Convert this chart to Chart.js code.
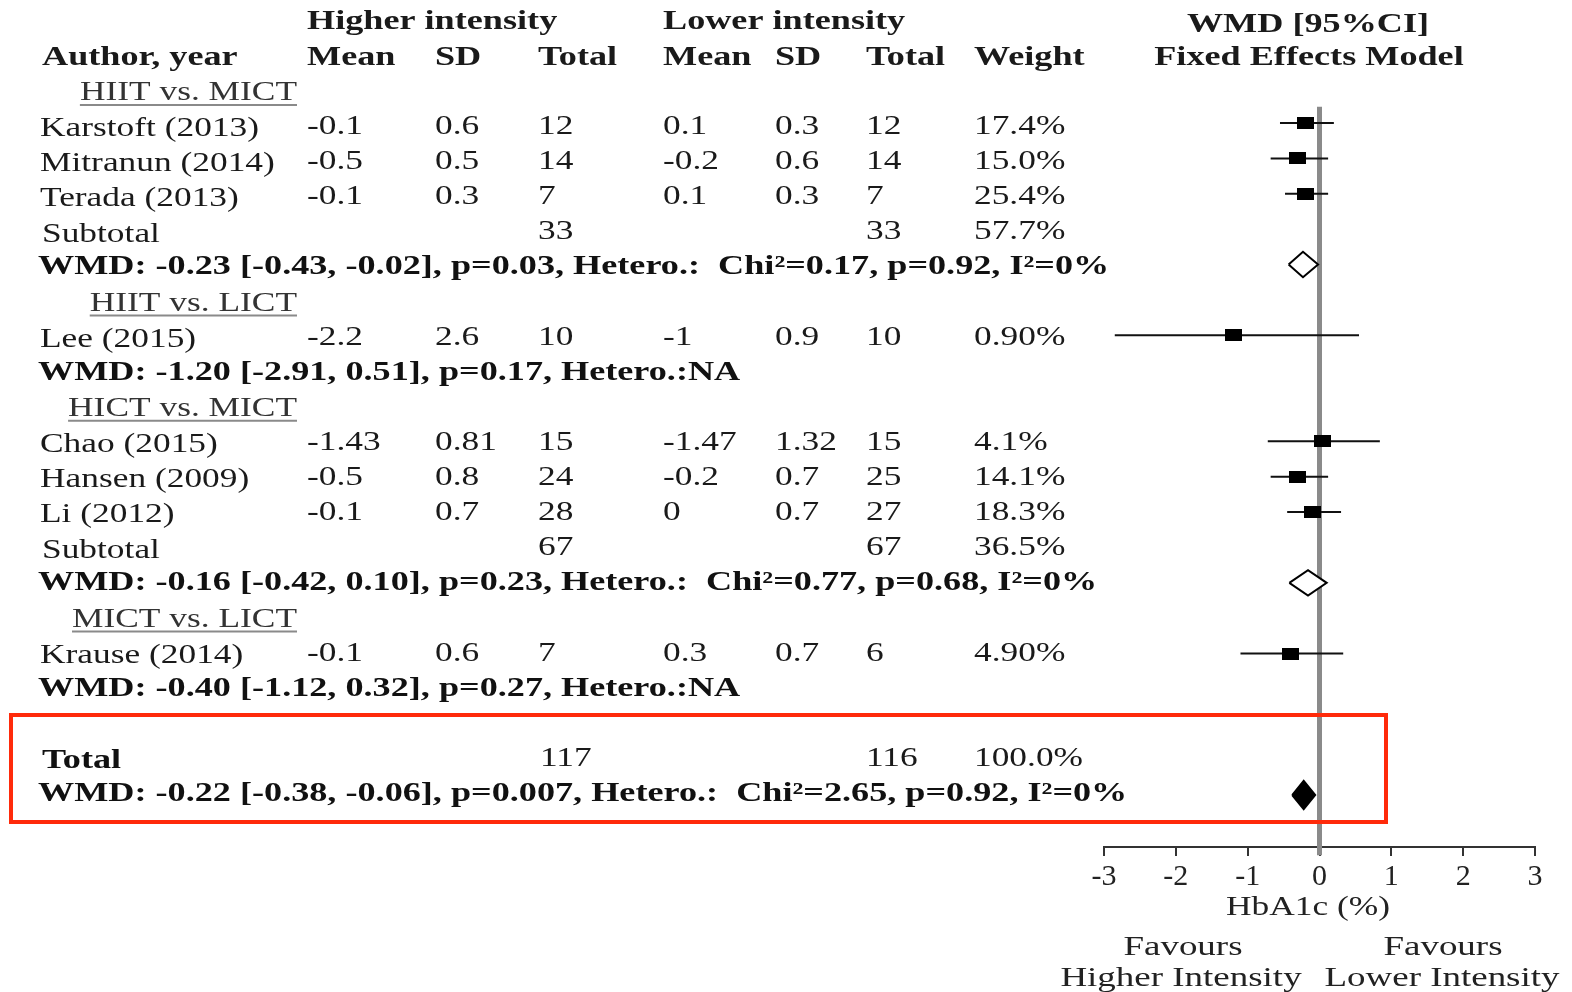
<!DOCTYPE html>
<html>
<head>
<meta charset="utf-8">
<script src="https://cdn.jsdelivr.net/npm/chart.js@4.4.1/dist/chart.umd.min.js"></script>
<style>
  html, body { margin: 0; padding: 0; background: #fff; }
  #wrap { width: 1572px; height: 992px; position: relative; }
</style>
</head>
<body>
<div id="wrap"><canvas id="c"></canvas></div>
<script>
// study rows
const authors = ['Karstoft (2013)', 'Mitranun (2014)', 'Terada (2013)', 'Lee (2015)', 'Chao (2015)', 'Hansen (2009)', 'Li (2012)', 'Krause (2014)']
const studyRows = [3, 4, 5, 9, 12, 13, 14, 18]
const hiMean = ['-0.1', '-0.5', '-0.1', '-2.2', '-1.43', '-0.5', '-0.1', '-0.1']
const hiSD = ['0.6', '0.5', '0.3', '2.6', '0.81', '0.8', '0.7', '0.6']
const hiN = ['12', '14', '7', '10', '15', '24', '28', '7']
const loMean = ['0.1', '-0.2', '0.1', '-1', '-1.47', '-0.2', '0', '0.3']
const loSD = ['0.3', '0.6', '0.3', '0.9', '1.32', '0.7', '0.7', '0.7']
const loN = ['12', '14', '7', '10', '15', '25', '27', '6']
const weights = ['17.4%', '15.0%', '25.4%', '0.90%', '4.1%', '14.1%', '18.3%', '4.90%']
const est = [-0.2, -0.3, -0.2, -1.2, 0.04, -0.3, -0.1, -0.4]
const ciLow = [-0.55, -0.68, -0.48, -2.85, -0.72, -0.68, -0.45, -1.1]
const ciHigh = [0.2, 0.12, 0.12, 0.55, 0.84, 0.12, 0.3, 0.33]

// subgroup headings
const groupNames = ['HIIT vs. MICT', 'HIIT vs. LICT', 'HICT vs. MICT', 'MICT vs. LICT']
const groupRows = [2, 8, 11, 17]

// subtotal rows
const subtotalRows = [6, 15]
const subtotalHiN = ['33', '67']
const subtotalLoN = ['33', '67']
const subtotalWeight = ['57.7%', '36.5%']

// pooled estimates (diamonds)
const poolRows = [7, 16, 22]
const poolEst = [-0.23, -0.16, -0.22]
const poolLow = [-0.43, -0.42, -0.38]
const poolHigh = [-0.02, 0.10, -0.06]
const poolFilled = [false, false, true]

// summary text lines
const wmdRows = [7, 10, 16, 19, 22]
const wmdText = [
  'WMD: -0.23 [-0.43, -0.02], p=0.03, Hetero.:  Chi\u00b2=0.17, p=0.92, I\u00b2=0%',
  'WMD: -1.20 [-2.91, 0.51], p=0.17, Hetero.:NA',
  'WMD: -0.16 [-0.42, 0.10], p=0.23, Hetero.:  Chi\u00b2=0.77, p=0.68, I\u00b2=0%',
  'WMD: -0.40 [-1.12, 0.32], p=0.27, Hetero.:NA',
  'WMD: -0.22 [-0.38, -0.06], p=0.007, Hetero.:  Chi\u00b2=2.65, p=0.92, I\u00b2=0%'
]
const totalRow = 21
const totalHiN = '117'
const totalLoN = '116'
const totalWeight = '100.0%'

const xTicks = [-3, -2, -1, 0, 1, 2, 3]

const SERIF = '"Liberation Serif", "Times New Roman", serif'

// square marker
const sq = document.createElement('canvas')
sq.width = 17
sq.height = 12
const sqc = sq.getContext('2d')
sqc.fillStyle = '#000'
sqc.fillRect(0, 0, 17, 12)

const datasets = []
// reference line at 0
datasets.push({
  data: [{ x: 0, y: 2.54 }, { x: 0, y: 23.7 }],
  showLine: true, borderColor: '#8a8a8a', borderWidth: 5, pointRadius: 0, order: 10, clip: false
})
// confidence intervals
for (let i = 0; i < est.length; i++) {
  datasets.push({
    data: [{ x: ciLow[i], y: studyRows[i] }, { x: ciHigh[i], y: studyRows[i] }],
    showLine: true, borderColor: '#111', borderWidth: 2, pointRadius: 0, order: 5
  })
}
// squares
datasets.push({
  data: est.map((v, i) => ({ x: v, y: studyRows[i] })),
  pointStyle: sq, pointRadius: 8, showLine: false, order: 1
})
// diamonds
for (let i = 0; i < poolEst.length; i++) {
  const r = poolRows[i]
  const h = poolFilled[i] ? 0.4 : 0.36
  datasets.push({
    data: [
      { x: poolLow[i], y: r }, { x: poolEst[i], y: r - h },
      { x: poolHigh[i], y: r }, { x: poolEst[i], y: r + h }, { x: poolLow[i], y: r }
    ],
    showLine: true, tension: 0, borderColor: '#000', borderWidth: 2,
    backgroundColor: poolFilled[i] ? '#000' : '#fff',
    fill: 'shape', pointRadius: 0, order: 2
  })
}

const txt = (ctx, s, x, y, opt) => {
  opt = opt || {}
  const sx = opt.sx || (opt.bold ? 1.34 : 1.31)
  ctx.save()
  ctx.font = (opt.bold ? 'bold ' : '') + (opt.size || 27) + 'px ' + SERIF
  ctx.fillStyle = opt.color || '#1a1a1a'
  ctx.textBaseline = 'middle'
  const w = ctx.measureText(s).width * sx
  let x0 = x
  if (opt.align === 'right') x0 = x - w
  if (opt.align === 'center') x0 = x - w / 2
  ctx.translate(x0, y)
  ctx.scale(sx, 1)
  ctx.textAlign = 'left'
  ctx.fillText(s, 0, 0)
  ctx.restore()
  return w
}

const tablePlugin = {
  id: 'table',
  afterDraw(chart) {
    const ctx = chart.ctx
    const ys = chart.scales.y
    // text rows sit slightly tighter than the marker rows
    const py = r => ys.getPixelForValue(r) - (r - 3) * 0.27 + 4
    const col = { author: 40, hm: 307, hs: 435, hn: 538, lm: 663, ls: 775, ln: 866, w: 974 }

    // headers
    txt(ctx, 'Higher intensity', col.hm, 22, { bold: true })
    txt(ctx, 'Lower intensity', col.lm, 22, { bold: true })
    txt(ctx, 'WMD [95%CI]', 1308, 25, { bold: true, align: 'center' })
    txt(ctx, 'Author, year', 42, 58, { bold: true })
    txt(ctx, 'Mean', col.hm, 58, { bold: true })
    txt(ctx, 'SD', col.hs, 58, { bold: true })
    txt(ctx, 'Total', col.hn, 58, { bold: true })
    txt(ctx, 'Mean', col.lm, 58, { bold: true })
    txt(ctx, 'SD', col.ls, 58, { bold: true })
    txt(ctx, 'Total', col.ln, 58, { bold: true })
    txt(ctx, 'Weight', col.w, 58, { bold: true })
    txt(ctx, 'Fixed Effects Model', 1309, 58, { bold: true, align: 'center' })

    // subgroup headings
    groupNames.forEach((g, i) => {
      const y = py(groupRows[i]) + 1
      const w = txt(ctx, g, 297, y, { align: 'right', color: '#333' })
      ctx.save()
      ctx.strokeStyle = '#8a8a8a'
      ctx.lineWidth = 2
      ctx.beginPath()
      ctx.moveTo(297 - w, y + 12)
      ctx.lineTo(297, y + 12)
      ctx.stroke()
      ctx.restore()
    })

    // studies
    authors.forEach((a, i) => {
      const y = py(studyRows[i])
      txt(ctx, a, col.author, y + 2)
      txt(ctx, hiMean[i], col.hm, y)
      txt(ctx, hiSD[i], col.hs, y)
      txt(ctx, hiN[i], col.hn, y)
      txt(ctx, loMean[i], col.lm, y)
      txt(ctx, loSD[i], col.ls, y)
      txt(ctx, loN[i], col.ln, y)
      txt(ctx, weights[i], col.w, y)
    })

    // subtotals
    subtotalRows.forEach((r, i) => {
      const y = py(r)
      txt(ctx, 'Subtotal', 42, y + 3)
      txt(ctx, subtotalHiN[i], col.hn, y)
      txt(ctx, subtotalLoN[i], col.ln, y)
      txt(ctx, subtotalWeight[i], col.w, y)
    })

    // WMD lines
    wmdRows.forEach((r, i) => {
      txt(ctx, wmdText[i], 38, py(r), { bold: true, color: '#111' })
    })

    // total
    const ty = py(totalRow)
    txt(ctx, 'Total', 42, ty + 2, { bold: true, color: '#111' })
    txt(ctx, totalHiN, 540, ty)
    txt(ctx, totalLoN, col.ln, ty)
    txt(ctx, totalWeight, col.w, ty)

    // red box
    ctx.save()
    ctx.strokeStyle = '#ff2a0a'
    ctx.lineWidth = 4
    ctx.strokeRect(11, 715, 1375, 107)
    ctx.restore()

    // axis title and favours labels
    txt(ctx, 'HbA1c (%)', 1308, 908, { color: '#222', align: 'center' })
    txt(ctx, 'Favours', 1183, 948, { color: '#222', align: 'center', size: 28, sx: 1.32 })
    txt(ctx, 'Higher Intensity', 1181, 979, { color: '#222', align: 'center', size: 28, sx: 1.32 })
    txt(ctx, 'Favours', 1443, 948, { color: '#222', align: 'center', size: 28, sx: 1.32 })
    txt(ctx, 'Lower Intensity', 1442, 979, { color: '#222', align: 'center', size: 28, sx: 1.32 })
  }
}

new Chart(document.getElementById('c'), {
  type: 'scatter',
  data: { datasets },
  options: {
    responsive: true,
    maintainAspectRatio: false,
    animation: false,
    layout: { autoPadding: false, padding: { left: 1104, right: 37, top: 0, bottom: 0 } },
    plugins: { legend: { display: false }, tooltip: { enabled: false } },
    scales: {
      x: {
        type: 'linear', position: 'bottom', min: -3, max: 3,
        afterBuildTicks: (s) => { s.ticks = xTicks.map(v => ({ value: v })) },
        afterFit: (s) => { s.height = 145 },
        ticks: {
          font: { family: SERIF, size: 30 }, color: '#222', padding: 3,
          callback: (v) => String(v)
        },
        grid: { drawOnChartArea: false, drawTicks: true, tickLength: 9, color: '#333', lineWidth: 2 },
        border: { display: true, color: '#333', width: 2 }
      },
      y: {
        type: 'linear', reverse: true, min: -0.48, max: 23.47, display: false
      }
    }
  },
  plugins: [tablePlugin]
})
</script>
</body>
</html>
